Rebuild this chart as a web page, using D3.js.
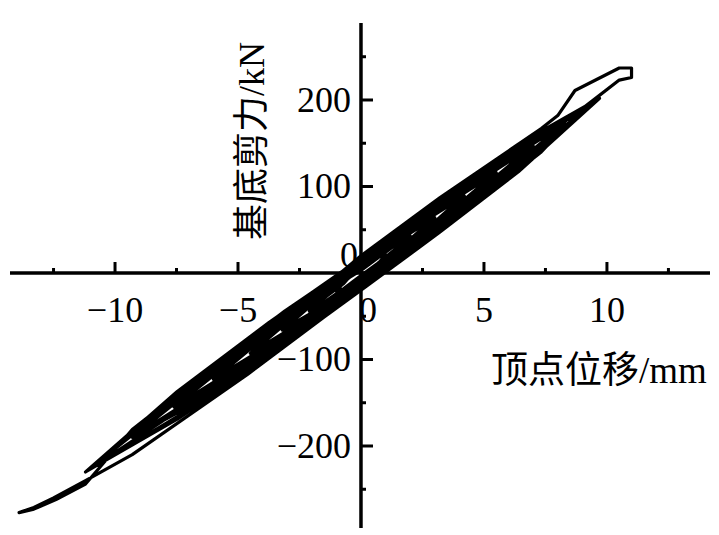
<!DOCTYPE html>
<html><head><meta charset="utf-8">
<script src="https://cdn.jsdelivr.net/npm/d3@7"></script>
<style>html,body{margin:0;padding:0;background:#fff;}svg{display:block;}</style>
</head><body>
<svg id="chart" width="719" height="535"></svg>
<script>
// Hysteresis record: top displacement (mm) and base shear (kN), in test order
const dispX = [
  0,0.33,0.67,1,0.67,0.33,0,-0.33,-0.67,-1,-0.67,-0.33,
  0,0.67,1.33,2,1.33,0.67,0,-0.7,-1.4,-2.1,-1.4,-0.7,
  0,0.67,1.33,1.95,1.33,0.67,0,-0.7,-1.4,-2.05,-1.4,-0.7,
  0,0.67,1.33,1.9,1.33,0.67,0,-0.7,-1.4,-2.0,-1.4,-0.7,
  0,1,2,3,2,1,0,-1.07,-2.13,-3.2,-2.13,-1.07,
  0,1,2,2.95,2,1,0,-1.07,-2.13,-3.15,-2.13,-1.07,
  0,1,2,2.9,2,1,0,-1.07,-2.13,-3.1,-2.13,-1.07,
  0,1.4,2.8,4.2,2.8,1.4,0,-1.5,-3,-4.5,-3,-1.5,
  0,1.4,2.8,4.15,2.8,1.4,0,-1.5,-3,-4.45,-3,-1.5,
  0,1.4,2.8,4.1,2.8,1.4,0,-1.5,-3,-4.4,-3,-1.5,
  0,1.83,3.67,5.5,3.67,1.83,0,-2,-4,-6,-4,-2,
  0,1.83,3.67,5.45,3.67,1.83,0,-2,-4,-5.95,-4,-2,
  0,1.83,3.67,5.4,3.67,1.83,0,-2,-4,-5.9,-4,-2,
  0,2.33,4.67,7,4.67,2.33,0,-2.53,-5.07,-7.6,-5.07,-2.53,
  0,2.33,4.67,6.95,4.67,2.33,0,-2.53,-5.07,-7.55,-5.07,-2.53,
  0,2.33,4.67,6.9,4.67,2.33,0,-2.53,-5.07,-7.5,-5.07,-2.53,
  0,2.77,5.53,8.3,5.53,2.77,0,-3.1,-6.2,-9.3,-6.2,-3.1,
  0,2.77,5.53,8.25,5.53,2.77,0,-3.1,-6.2,-9.25,-6.2,-3.1,
  0,2.77,5.53,8.2,5.53,2.77,0,-3.1,-6.2,-9.2,-6.2,-3.1,
  0,3.2,6.4,9.7,6.4,3.2,0,-3.73,-7.47,-11.2,-7.47,-3.73,
  0,3.2,6.4,9.6,6.4,3.2,0,-3.73,-7.47,-11.15,-7.47,-3.73,
  0,3.2,6.4,9.5,6.4,3.2,0,-3.73,-7.47,-11.1,-7.47,-3.73,
  0,3.67,7.33,8.0,8.7,10.5,11.0,11.0,10.5,9.0,7.33,3.67,0,-4.6,-9.3,-11.2,-12.5,-13.3,-13.9,-13.3,-12.4,-11.2,-9.3,-4.6,0
];
const force = [
  5,12,18,21,10,2,-5,-12,-18,-21,-10,-2,
  8,22,35,43,22,6,-8,-23,-36,-44,-23,-7,
  6,20,33,42,24,8,-6,-21,-34,-43,-25,-9,
  3,17,31,41,26,11,-3,-18,-32,-42,-27,-12,
  11,32,52,64,34,10,-11,-33,-53,-66,-35,-11,
  9,30,50,63,36,12,-9,-31,-51,-65,-37,-13,
  5,26,46,62,39,16,-5,-27,-48,-64,-40,-17,
  14,44,71,89,48,16,-14,-45,-73,-93,-51,-17,
  11,41,68,88,51,19,-11,-42,-71,-92,-53,-20,
  6,36,64,87,54,24,-6,-37,-67,-91,-57,-25,
  16,55,90,116,65,23,-16,-57,-95,-123,-69,-25,
  13,52,87,115,67,26,-13,-54,-92,-122,-72,-28,
  7,46,83,114,72,32,-7,-48,-88,-121,-76,-34,
  18,67,112,147,84,31,-18,-70,-118,-155,-89,-34,
  15,64,110,146,86,34,-15,-67,-115,-154,-91,-37,
  8,57,104,145,92,41,-8,-60,-110,-153,-97,-44,
  19,77,131,173,100,39,-19,-82,-142,-190,-111,-44,
  16,74,128,172,103,42,-16,-79,-139,-189,-114,-47,
  9,67,123,171,108,49,-9,-72,-134,-188,-119,-54,
  20,87,149,202,117,47,-20,-97,-169,-230,-137,-57,
  17,84,146,200,120,50,-17,-94,-166,-229,-140,-60,
  9,76,140,198,126,58,-9,-86,-160,-228,-146,-68,
  19,96,167,182,211,237,237,226,223,190,140,58,-19,-117,-210,-240,-260,-271,-277,-273,-262,-244,-181,-76,8
];
const xMajorTicks = [-10,-5,0,5,10];
const xMinorTicks = [-12.5,-7.5,-2.5,2.5,7.5,12.5];
const yMajorTicks = [-200,-100,0,100,200];
const yMinorTicks = [-250,-150,-50,50,150,250];
const xTitle = "顶点位移/mm";
const yTitle = "基底剪力/kN";

const svg = d3.select("#chart");
const x = d3.scaleLinear().domain([-14.27, 14.19]).range([10, 710]);
const y = d3.scaleLinear().domain([-294.8, 289]).range([528, 23]);
const FONT = "'Liberation Serif','Times New Roman','Noto Sans CJK SC',serif";

const pts = dispX.map((d,i)=>[d, force[i]]);
const line = d3.line().x(d=>x(d[0])).y(d=>y(d[1]));

// axes lines
const x0 = x(0), y0 = y(0);
svg.append("line").attr("x1",x.range()[0]).attr("x2",x.range()[1]).attr("y1",y0).attr("y2",y0)
  .attr("stroke","#000").attr("stroke-width",3.5);
svg.append("line").attr("x1",x0).attr("x2",x0).attr("y1",y.range()[1]).attr("y2",y.range()[0])
  .attr("stroke","#000").attr("stroke-width",3.5);

// x ticks (upwards)
svg.selectAll(".xmaj").data(xMajorTicks).enter().append("line")
  .attr("x1",d=>x(d)).attr("x2",d=>x(d)).attr("y1",y0).attr("y2",y0-11)
  .attr("stroke","#000").attr("stroke-width",3);
svg.selectAll(".xmin").data(xMinorTicks).enter().append("line")
  .attr("x1",d=>x(d)).attr("x2",d=>x(d)).attr("y1",y0).attr("y2",y0-5)
  .attr("stroke","#000").attr("stroke-width",3);
// y ticks (rightwards)
svg.selectAll(".ymaj").data(yMajorTicks).enter().append("line")
  .attr("x1",x0).attr("x2",x0+12).attr("y1",d=>y(d)).attr("y2",d=>y(d))
  .attr("stroke","#000").attr("stroke-width",3);
svg.selectAll(".ymin").data(yMinorTicks).enter().append("line")
  .attr("x1",x0).attr("x2",x0+5).attr("y1",d=>y(d)).attr("y2",d=>y(d))
  .attr("stroke","#000").attr("stroke-width",3);

// data
svg.append("path").datum(pts).attr("d",line).attr("fill","none")
  .attr("stroke","#000").attr("stroke-width",3.2).attr("stroke-linejoin","round");

const fmt = d => (d<0 ? "\u2212"+Math.abs(d) : String(d));
// x tick labels
svg.selectAll(".xl").data(xMajorTicks).enter().append("text")
  .attr("x",d=>x(d)+(d===0?7:0)).attr("y",322)
  .attr("text-anchor","middle").attr("font-family",FONT).attr("font-size",36)
  .text(fmt);
// y tick labels
svg.selectAll(".yl").data(yMajorTicks).enter().append("text")
  .attr("x",d=>d===0?x0-3:x0-10).attr("y",d=>d===0?y0-6:y(d)+12)
  .attr("text-anchor","end").attr("font-family",FONT).attr("font-size",36)
  .text(fmt);

// titles
svg.append("text").attr("x",491).attr("y",383).attr("text-anchor","start")
  .attr("font-family",FONT).attr("font-size",37).text(xTitle);
svg.append("text").attr("transform","translate(264,141) rotate(-90)")
  .attr("text-anchor","middle").attr("font-family",FONT).attr("font-size",36).text(yTitle);
</script>
</body></html>
